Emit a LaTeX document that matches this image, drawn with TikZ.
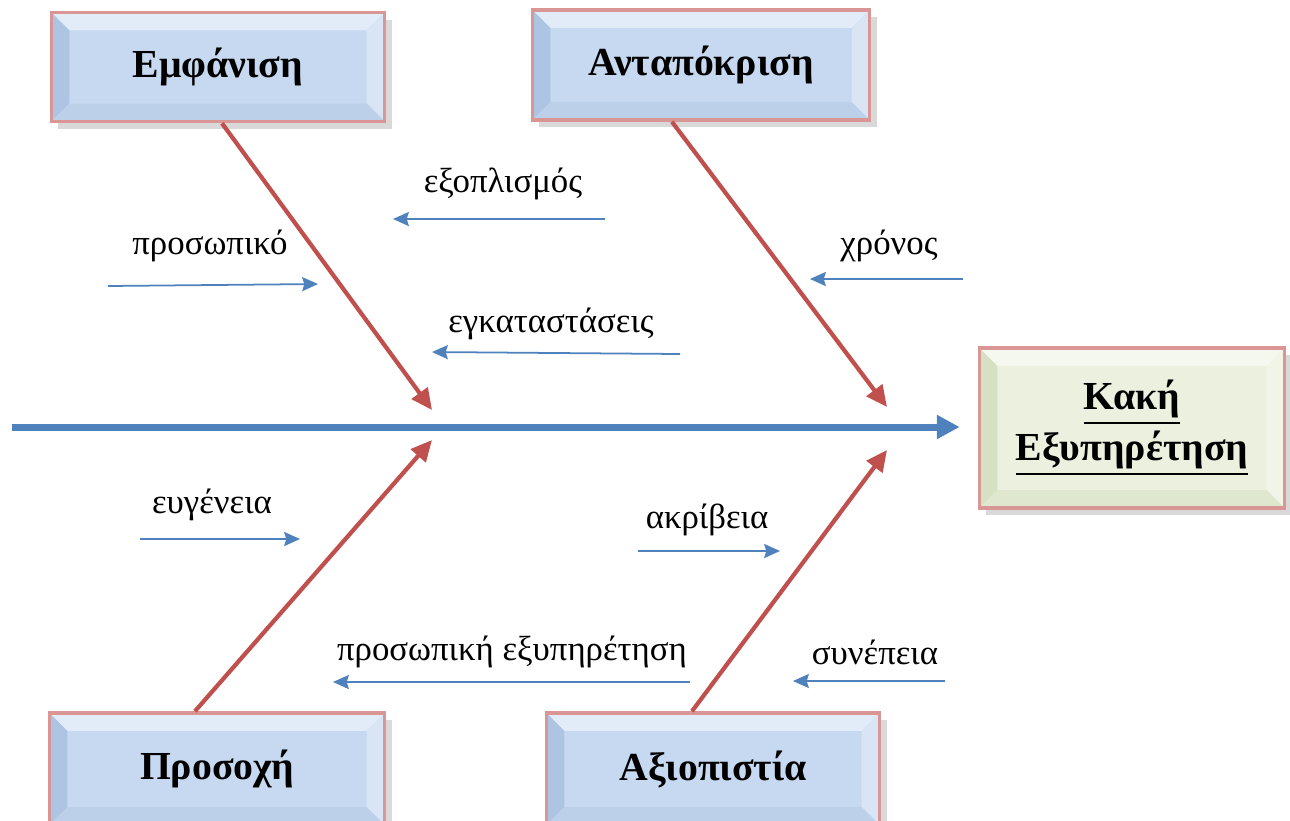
\documentclass[tikz,border=0pt]{standalone}
\usepackage{fontspec}
\setmainfont{Liberation Serif}
\usetikzlibrary{positioning, arrows.meta, shadows}
\definecolor{bonered}{HTML}{C0504D}
\definecolor{spineblue}{HTML}{4F81BD}
\definecolor{boxedge}{HTML}{D99694}
\definecolor{blueface}{HTML}{C6D9F1}
\definecolor{bluetop}{HTML}{E2EBF8}
\definecolor{blueleft}{HTML}{ADC4E2}
\definecolor{blueright}{HTML}{D9E5F5}
\definecolor{bluebottom}{HTML}{BDD0EA}
\definecolor{greenface}{HTML}{EBF1DE}
\definecolor{greentop}{HTML}{F5F8EF}
\definecolor{greenleft}{HTML}{D6E0C2}
\definecolor{greenright}{HTML}{F1F5E8}
\definecolor{greenbottom}{HTML}{DFE8CF}
\def\bevw{0.18cm}
\tikzset{
    bevel/.style={draw=boxedge, line width=1pt, fill=#1face, align=center,
        font=\fontsize{11.3}{14.5}\selectfont\bfseries,
        drop shadow={opacity=0.3, shadow xshift=2pt, shadow yshift=-2pt},
        path picture={
            \coordinate (nw) at (path picture bounding box.north west);
            \coordinate (ne) at (path picture bounding box.north east);
            \coordinate (sw) at (path picture bounding box.south west);
            \coordinate (se) at (path picture bounding box.south east);
            \fill[#1top] (nw) -- (ne) -- ([shift={(-\bevw,-\bevw)}]ne) -- ([shift={(\bevw,-\bevw)}]nw) -- cycle;
            \fill[#1left] (nw) -- (sw) -- ([shift={(\bevw,\bevw)}]sw) -- ([shift={(\bevw,-\bevw)}]nw) -- cycle;
            \fill[#1right] (ne) -- (se) -- ([shift={(-\bevw,\bevw)}]se) -- ([shift={(-\bevw,-\bevw)}]ne) -- cycle;
            \fill[#1bottom] (sw) -- (se) -- ([shift={(-\bevw,\bevw)}]se) -- ([shift={(\bevw,\bevw)}]sw) -- cycle;
        }},
    bone/.style={draw=bonered, line width=1.2pt, -{Triangle[length=6pt,width=5.5pt]}},
    spine/.style={draw=spineblue, line width=2pt, -{Triangle[length=6.5pt,width=6.5pt]}},
    cause/.style={draw=spineblue, line width=0.5pt, -{Stealth[length=4.5pt,width=4pt,inset=0.6pt]}},
    label/.style={font=\fontsize{9.9}{12}\selectfont}
}
\begin{document}
\begin{tikzpicture}[x=0.01cm, y=-0.01cm]
    \useasboundingbox (0,0) rectangle (1290,820);
    % Boxes
    \node [bevel=blue, minimum width=3.33cm, minimum height=1.09cm] (emfanisi) at (218,67) {Εμφάνιση};
    \node [bevel=blue, minimum width=3.37cm, minimum height=1.10cm] (antapokrisi) at (701,65) {Ανταπόκριση};
    \node [bevel=green, minimum width=3.05cm, minimum height=1.60cm] (kaki) at (1132,428) {\underline{Κακή}\\\underline{Εξυπηρέτηση}};
    \node [bevel=blue, minimum width=3.35cm, minimum height=1.12cm] (prosoxi) at (217,769) {Προσοχή};
    \node [bevel=blue, minimum width=3.33cm, minimum height=1.12cm] (axiopistia) at (713,769) {Αξιοπιστία};

    % Spine and bones
    \coordinate (tail) at (12,427);
    \coordinate (tipE) at (432,410);
    \coordinate (tipA) at (887,407);
    \coordinate (tipP) at (432,440);
    \coordinate (tipX) at (887,450);
    \draw [spine, shorten >=0.18cm] (tail) -- (kaki.west |- tail);
    \draw [bone] ([xshift=0.04cm]emfanisi.south) -- (tipE);
    \draw [bone] ([xshift=-0.29cm]antapokrisi.south) -- (tipA);
    \draw [bone] ([xshift=-0.22cm]prosoxi.north) -- (tipP);
    \draw [bone] ([xshift=-0.21cm]axiopistia.north) -- (tipX);

    % Causes
    \coordinate (c1a) at (108,286); \coordinate (c1b) at (318,284);
    \coordinate (c2a) at (605,219); \coordinate (c2b) at (393,219);
    \coordinate (c3a) at (680,354); \coordinate (c3b) at (432,352);
    \coordinate (c4a) at (963,279); \coordinate (c4b) at (810,279);
    \coordinate (c5a) at (140,539); \coordinate (c5b) at (300,539);
    \coordinate (c6a) at (638,551); \coordinate (c6b) at (780,551);
    \coordinate (c7a) at (690,682); \coordinate (c7b) at (333,682);
    \coordinate (c8a) at (945,681); \coordinate (c8b) at (793,681);
    \foreach \i in {1,...,8}
        \draw [cause] (c\i a) -- (c\i b);

    \node [label] (l1) at (210,246) {προσωπικό};
    \node [label] (l2) at (503,184) {εξοπλισμός};
    \node [label] (l3) at (551,324) {εγκαταστάσεις};
    \node [label] (l4) at (889,246) {χρόνος};
    \node [label] (l5) at (212,505) {ευγένεια};
    \node [label] (l6) at (707,520) {ακρίβεια};
    \node [label] (l7) at (512,652) {προσωπική εξυπηρέτηση};
    \node [label] (l8) at (875,652) {συνέπεια};
\end{tikzpicture}
\end{document}
